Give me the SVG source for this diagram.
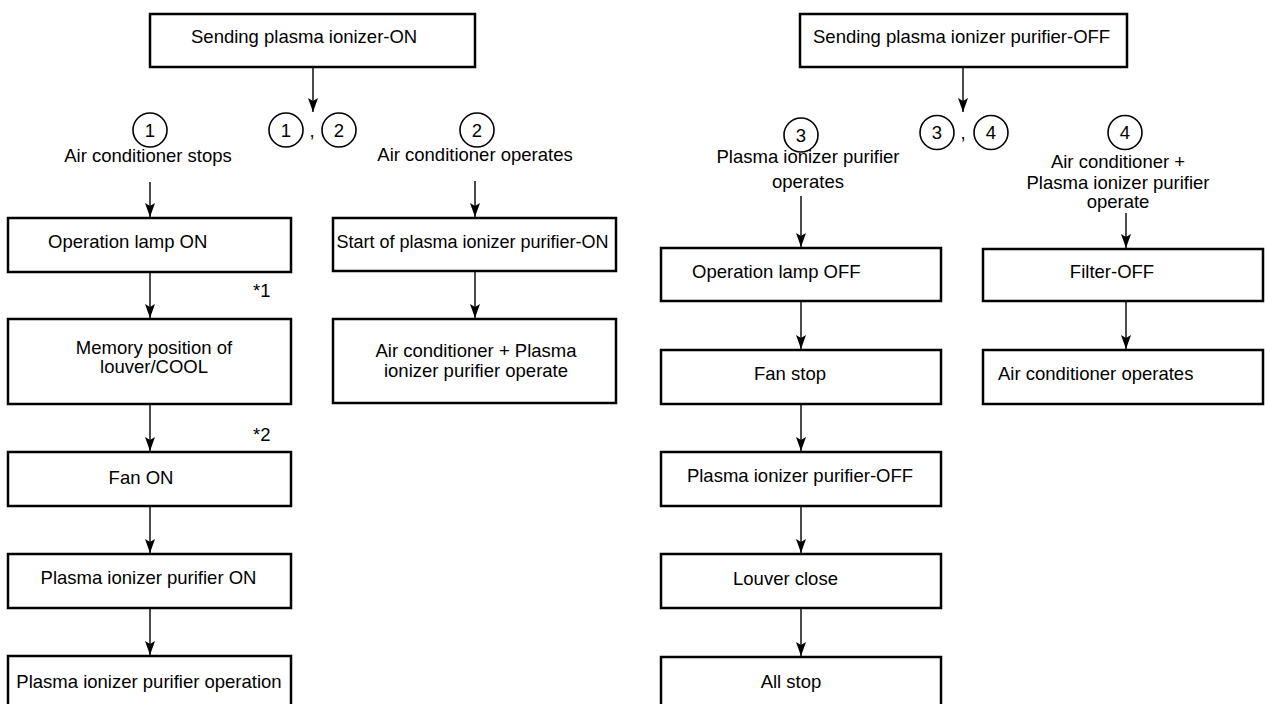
<svg xmlns="http://www.w3.org/2000/svg" width="1265" height="704" viewBox="0 0 1265 704">
<style>
.box{fill:#fff;stroke:#000;stroke-width:2.5}
.c{fill:none;stroke:#000;stroke-width:1.6}
.t{font-family:"Liberation Sans",Arial,sans-serif;font-size:18.5px;fill:#000}
.m{text-anchor:middle}
.sm{font-size:18px}
.ln{stroke:#000;stroke-width:1.4;fill:none;marker-end:url(#ah)}
</style>
<defs>
<marker id="ah" markerUnits="userSpaceOnUse" markerWidth="10" markerHeight="14" viewBox="0 0 10 14" refX="5" refY="14" orient="0">
<path d="M0,0 L5,3 L10,0 L5,14 Z" fill="#000"/>
</marker>
</defs>
<rect width="1265" height="704" fill="#fff"/>
<g id="connectors">
<line class="ln" x1="313" y1="67" x2="313" y2="112"/>
<line class="ln" x1="150" y1="182" x2="150" y2="217"/>
<line class="ln" x1="150" y1="272" x2="150" y2="318"/>
<line class="ln" x1="150" y1="404" x2="150" y2="451"/>
<line class="ln" x1="150" y1="506" x2="150" y2="553"/>
<line class="ln" x1="150" y1="608" x2="150" y2="655"/>
<line class="ln" x1="475" y1="181" x2="475" y2="217"/>
<line class="ln" x1="475" y1="271" x2="475" y2="318"/>
<line class="ln" x1="963" y1="67" x2="963" y2="112"/>
<line class="ln" x1="801" y1="196" x2="801" y2="247"/>
<line class="ln" x1="801" y1="301" x2="801" y2="349"/>
<line class="ln" x1="801" y1="404" x2="801" y2="451"/>
<line class="ln" x1="801" y1="506" x2="801" y2="553"/>
<line class="ln" x1="801" y1="608" x2="801" y2="656"/>
<line class="ln" x1="1126" y1="213" x2="1126" y2="248"/>
<line class="ln" x1="1126" y1="301" x2="1126" y2="349"/>
</g>
<g id="send-on">
<rect class="box" x="150" y="14" width="325" height="53"/>
<text class="t" x="191" y="43">Sending plasma ionizer-ON</text>
</g>
<g id="cases-12">
<circle class="c" cx="286" cy="130" r="17"/>
<text class="t m" x="286" y="136.5">1</text>
<text class="t m" x="312" y="137">,</text>
<circle class="c" cx="339" cy="130" r="17"/>
<text class="t m" x="339" y="136.5">2</text>
</g>
<g id="case1">
<circle class="c" cx="150" cy="130" r="17"/>
<text class="t m" x="150" y="136.5">1</text>
<text class="t m" x="148" y="162">Air conditioner stops</text>
</g>
<g id="case2">
<circle class="c" cx="477" cy="130" r="17"/>
<text class="t m" x="477" y="136.5">2</text>
<text class="t m" x="475" y="161">Air conditioner operates</text>
</g>
<g id="lamp-on">
<rect class="box" x="8" y="218" width="283" height="54"/>
<text class="t" x="48" y="248">Operation lamp ON</text>
</g>
<text id="note1" class="t" x="253" y="297">*1</text>
<g id="memory">
<rect class="box" x="8" y="319" width="283" height="85"/>
<text class="t m" x="154" y="354">Memory position of</text>
<text class="t m" x="154" y="373">louver/COOL</text>
</g>
<text id="note2" class="t" x="253" y="441">*2</text>
<g id="fan-on">
<rect class="box" x="8" y="452" width="283" height="54"/>
<text class="t m" x="141" y="484">Fan ON</text>
</g>
<g id="plasma-on">
<rect class="box" x="8" y="554" width="283" height="54"/>
<text class="t m" x="148.5" y="584">Plasma ionizer purifier ON</text>
</g>
<g id="plasma-operation">
<rect class="box" x="8" y="656" width="283" height="60"/>
<text class="t m" x="149" y="688">Plasma ionizer purifier operation</text>
</g>
<g id="start-plasma">
<rect class="box" x="333" y="218" width="283" height="53"/>
<text class="t m sm" x="472.5" y="248">Start of plasma ionizer purifier-ON</text>
</g>
<g id="ac-plasma">
<rect class="box" x="333" y="319" width="283" height="84"/>
<text class="t m" x="476" y="357">Air conditioner + Plasma</text>
<text class="t m" x="476" y="377">ionizer purifier operate</text>
</g>
<g id="send-off">
<rect class="box" x="800" y="14" width="327" height="53"/>
<text class="t" x="813" y="43">Sending plasma ionizer purifier-OFF</text>
</g>
<g id="cases-34">
<circle class="c" cx="937" cy="132.5" r="17"/>
<text class="t m" x="937" y="139">3</text>
<text class="t m" x="963" y="139">,</text>
<circle class="c" cx="991" cy="132.5" r="17"/>
<text class="t m" x="991" y="139">4</text>
</g>
<g id="case3">
<circle class="c" cx="801" cy="135" r="17"/>
<text class="t m" x="801" y="141.5">3</text>
<text class="t m" x="808" y="163">Plasma ionizer purifier</text>
<text class="t m" x="808" y="188">operates</text>
</g>
<g id="case4">
<circle class="c" cx="1125" cy="132.5" r="17"/>
<text class="t m" x="1125" y="139">4</text>
<text class="t m" x="1118" y="168">Air conditioner +</text>
<text class="t m" x="1118" y="189">Plasma ionizer purifier</text>
<text class="t m" x="1118" y="208">operate</text>
</g>
<g id="lamp-off">
<rect class="box" x="661" y="248" width="280" height="53"/>
<text class="t" x="692" y="278">Operation lamp OFF</text>
</g>
<g id="fan-stop">
<rect class="box" x="661" y="350" width="280" height="54"/>
<text class="t m" x="790" y="380">Fan stop</text>
</g>
<g id="plasma-off">
<rect class="box" x="661" y="452" width="280" height="54"/>
<text class="t m" x="800" y="482">Plasma ionizer purifier-OFF</text>
</g>
<g id="louver-close">
<rect class="box" x="661" y="554" width="280" height="54"/>
<text class="t m" x="785.5" y="585">Louver close</text>
</g>
<g id="all-stop">
<rect class="box" x="661" y="657" width="280" height="60"/>
<text class="t m" x="791" y="688">All stop</text>
</g>
<g id="filter-off">
<rect class="box" x="983" y="249" width="280" height="52"/>
<text class="t m" x="1112" y="278">Filter-OFF</text>
</g>
<g id="ac-operates">
<rect class="box" x="983" y="350" width="280" height="54"/>
<text class="t" x="998" y="380">Air conditioner operates</text>
</g>
</svg>
